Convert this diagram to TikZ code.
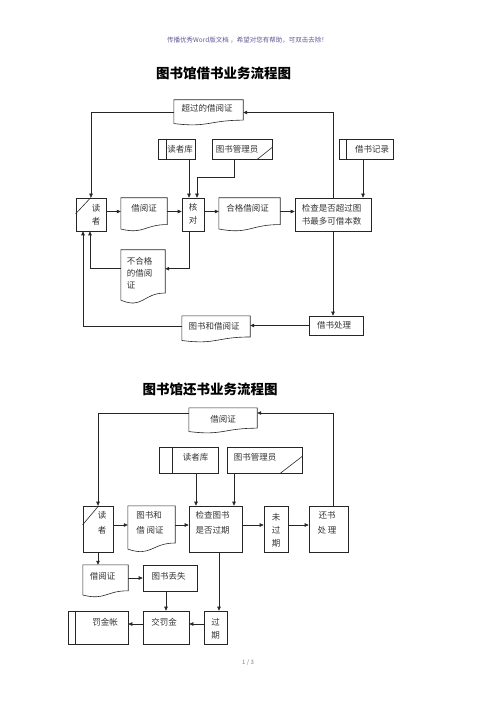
\documentclass[tikz,border=0pt]{standalone}
\usepackage{fontspec}
\setmainfont{Noto Sans CJK SC}
\usetikzlibrary{calc,arrows.meta}
\definecolor{hdrcol}{RGB}{96,88,150}

\begin{document}
\begin{tikzpicture}[x=1pt,y=-1pt]

	% page, in px of the scanned sheet (y runs downwards)
	\useasboundingbox (0,0) rectangle (500,708);

	% styles
	\tikzstyle{line}=[draw=black!85,line width=0.6pt]
	\tikzstyle{box}=[line,rectangle,inner sep=0pt]
	\tikzstyle{doc}=[rectangle,inner sep=0pt]
	\tikzstyle{arr}=[line,-{Triangle[length=4pt,width=3.5pt]}]
	\tikzstyle{txt}=[font=\fontsize{8.5}{13}\selectfont,text=black!80,align=center,inner sep=0pt]
	\tikzstyle{txtb}=[txt,font=\fontsize{8.5}{15}\selectfont]
	\tikzstyle{title}=[font=\fontsize{13.5}{16}\selectfont\bfseries]

	% document shape: wavy bottom drawn round an empty node
	\newcommand{\wavy}[1]{\draw[line] (#1.north west) -- (#1.north east) -- ($(#1.north east)!0.802!(#1.south east)$) .. controls ($(#1.north)!0.802!(#1.south)$) and ($(#1.north)!1.107!(#1.south)$) .. ($(#1.north west)!0.934!(#1.south west)$) -- cycle;}

	\node[font=\fontsize{6.5}{8}\selectfont,text=hdrcol] (hdr) at (247.5,40) {传播优秀Word版文档 ，希望对您有帮助，可双击去除！};

	% ---------------- borrowing ----------------
	\node[title] (t1) at (223.5,73) {图书馆借书业务流程图};

	\node[doc,minimum width=69,minimum height=25,label={[txt,xshift=-1.5pt,yshift=4.5pt]center:超过的借阅证}] (over) at (208.5,112.5) {};
	\wavy{over}

	\node[box,minimum width=37,minimum height=20,label={[txt,xshift=3.5pt]center:读者库}] (dzk1) at (176.5,149) {};
	\draw[line] ([xshift=9pt]dzk1.north west) -- ([xshift=9pt]dzk1.south west);
	\node[box,minimum width=60,minimum height=20,label={[txt,xshift=-5pt]center:图书管理员}] (gly1) at (242,149) {};
	\draw[line] (gly1.south east) ++(-15,0) -- ++(15,-12);
	\node[box,minimum width=54,minimum height=20,label={[txt,xshift=6pt]center:借书记录}] (jsjl) at (366,149) {};
	\draw[line] ([xshift=8pt]jsjl.north west) -- ([xshift=8pt]jsjl.south west);

	\node[box,minimum width=30,minimum height=33,label={[txt,xshift=5pt]center:读\\者}] (dz1) at (91,214.5) {};
	\draw[line] (dz1.north west) ++(0,16) -- ++(15,-16);
	\node[doc,minimum width=46,minimum height=33,label={[txt,yshift=6.5pt]center:借阅证}] (jyz1) at (144,214.5) {};
	\wavy{jyz1}
	\node[box,minimum width=22,minimum height=33,label={[txt,yshift=1pt]center:核\\对}] (hd) at (193,214.5) {};
	\node[doc,minimum width=61,minimum height=33,label={[txt,xshift=-2pt,yshift=6.5pt]center:合格借阅证}] (hgjyz) at (249.5,214.5) {};
	\wavy{hgjyz}
	\node[box,minimum width=76,minimum height=33,label={[txt,xshift=-1.5pt]center:检查是否超过图\\书最多可借本数}] (jc1) at (333,214.5) {};

	\node[doc,minimum width=44,minimum height=53.5,label={[txt,font=\fontsize{8.5}{12}\selectfont,align=left,xshift=-3.5pt,yshift=4pt]center:不合格\\的借阅\\证}] (bhg) at (143,276.75) {};
	\wavy{bhg}

	\node[box,minimum width=54,minimum height=19,label={[txt,xshift=-2pt]center:借书处理}] (jscl) at (336,325.5) {};
	\node[doc,minimum width=68,minimum height=26,label={[txt,xshift=-2pt,yshift=3pt]center:图书和借阅证}] (tshjyz) at (216,329) {};
	\wavy{tshjyz}

	% connectors
	\draw[arr] (over.west) -| (dz1.north);
	\draw[arr] (jc1.north) |- (over.east);
	\draw[arr] ($(hd.north |- dzk1.south)+(-4,0)$) -- ([xshift=-4pt]hd.north);
	\draw[arr] ([xshift=-8pt]gly1.south) -- ++(0,18) -| ([xshift=4pt]hd.north);
	\draw[arr] ($(jc1.north |- jsjl.south)+(30,0)$) -- ([xshift=30pt]jc1.north);

	\draw[arr] ([yshift=3pt]dz1.east) -- ([yshift=3pt]jyz1.west);
	\draw[arr] ([yshift=3pt]jyz1.east) -- ([yshift=3pt]hd.west);
	\draw[arr] ([yshift=3pt]hd.east) -- ([yshift=3pt]hgjyz.west);
	\draw[arr] ([yshift=3pt]hgjyz.east) -- ([yshift=3pt]jc1.west);

	\draw[arr] ([xshift=-4pt]hd.south) |- ([yshift=8pt]bhg.east);
	\draw[arr] ([yshift=8pt]bhg.west) -| ([xshift=-1pt]dz1.south);
	\draw[arr] (jc1.south) -- (jc1.south |- jscl.north);
	\draw[arr] (jscl.west) -- (jscl.west -| tshjyz.east);
	\draw[arr] ([yshift=3pt]tshjyz.west) -| ([xshift=-8pt]dz1.south);

	% ---------------- returning ----------------
	\node[title] (t2) at (210,389) {图书馆还书业务流程图};

	\node[doc,minimum width=68,minimum height=25,label={[txt,yshift=1.5pt]center:借阅证}] (jyz2) at (223,420.5) {};
	\wavy{jyz2}

	\node[box,minimum width=59,minimum height=26,label={[txt,xshift=7pt,yshift=3pt]center:读者库}] (dzk2) at (188.5,460) {};
	\draw[line] ([xshift=14pt]dzk2.north west) -- ([xshift=14pt]dzk2.south west);
	\node[box,minimum width=75,minimum height=26,label={[txt,xshift=-9.5pt,yshift=3pt]center:图书管理员}] (gly2) at (264.5,460) {};
	\draw[line] (gly2.south east) ++(-22,0) -- ++(22,-17);

	\node[box,minimum width=30,minimum height=46,label={[txtb,xshift=4pt,yshift=6.5pt]center:读\\者}] (dz2) at (98,529) {};
	\draw[line] (dz2.north west) ++(0,19) -- ++(16,-19);
	\node[doc,minimum width=47,minimum height=46,label={[txtb,align=left,xshift=-1.5pt,yshift=6.5pt]center:图书和\\借 阅证}] (tsjyz2) at (151.5,529) {};
	\wavy{tsjyz2}
	\node[box,minimum width=53,minimum height=46,label={[txtb,align=left,xshift=-3pt,yshift=6.5pt]center:检查图书\\是否过期}] (jc2) at (215.5,529) {};
	\node[box,minimum width=24,minimum height=46,label={[txt,yshift=-1pt]center:未\\过\\期}] (wgq) at (276,529) {};
	\node[box,minimum width=39,minimum height=46,label={[txtb,xshift=-1.5pt,yshift=6.5pt]center:还书\\处 理}] (hscl) at (328.5,529) {};

	\node[doc,minimum width=45,minimum height=32,label={[txt,xshift=-3pt,yshift=5pt]center:借阅证}] (jyz3) at (105.5,581) {};
	\wavy{jyz3}
	\node[box,minimum width=54,minimum height=26,label={[txt,xshift=-1.5pt,yshift=2pt]center:图书丢失}] (tsds) at (170,578) {};

	\node[box,minimum width=46,minimum height=33,label={[txt,xshift=-2pt,yshift=5.5pt]center:交罚金}] (jfj) at (166,627.5) {};
	\node[box,minimum width=23,minimum height=33,label={[txt,yshift=-1pt]center:过\\期}] (gq) at (215.5,627.5) {};
	\node[box,minimum width=60,minimum height=33,label={[txt,xshift=7pt,yshift=5.5pt]center:罚金帐}] (fjz) at (98,627.5) {};
	\draw[line] ([xshift=8pt]fjz.north west) -- ([xshift=8pt]fjz.south west);

	% connectors
	\draw[arr] ([yshift=7.5pt]jyz2.west) -| (dz2.north);
	\draw[arr] ([xshift=4.5pt]hscl.north) |- ([yshift=7.5pt]jyz2.east);
	\draw[arr] ($(jc2.north |- dzk2.south)+(-19.5,0)$) -- ([xshift=-19.5pt]jc2.north);
	\draw[arr] ($(jc2.north |- gly2.south)+(18.5,0)$) -- ([xshift=18.5pt]jc2.north);

	\draw[arr] ([yshift=4pt]dz2.east) -- ([yshift=4pt]tsjyz2.west);
	\draw[arr] ([yshift=4pt]tsjyz2.east) -- ([yshift=4pt]jc2.west);
	\draw[arr] ([yshift=4pt]jc2.east) -- ([yshift=4pt]wgq.west);
	\draw[arr] ([yshift=4pt]wgq.east) -- ([yshift=4pt]hscl.west);

	\draw[arr] (dz2.south) -- (dz2.south |- jyz3.north);
	\draw[arr] (tsds.west -| jyz3.east) -- (tsds.west);
	\draw[arr] (jfj.north |- tsds.south) -- (jfj.north);
	\draw[arr] ([xshift=3.5pt]jc2.south) -- ($(jc2.south |- gq.north)+(3.5,0)$);
	\draw[arr] ([yshift=3.5pt]gq.west) -- ([yshift=3.5pt]jfj.east);
	\draw[arr] ([yshift=3.5pt]jfj.west) -- ([yshift=3.5pt]fjz.east);

	\node[font=\fontsize{6}{7}\selectfont,text=black!50] (pgno) at (248,663) {1 / 3};

\end{tikzpicture}
\end{document}
